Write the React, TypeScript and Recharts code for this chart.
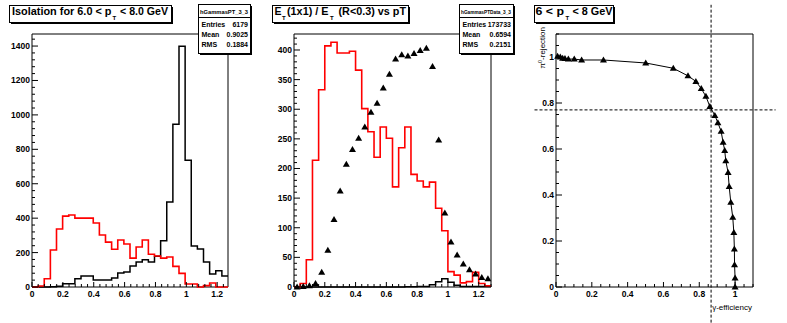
import React from "react";
import { ComposedChart, Line, XAxis, YAxis, ReferenceArea, ReferenceLine } from "recharts";

const FONT = "'Liberation Sans', Arial, Helvetica, sans-serif";
const NBINS = 32;

// panel 1: isolation, 6 < pT < 8 GeV
const ISO_XMAX = 1.27;
const ISO_YMAX = 1470;
const ISO_RED = [0, 6, 48, 215, 337, 412, 418, 400, 400, 400, 372, 302, 261, 219, 273, 250, 168, 232, 273, 190, 180, 168, 174, 120, 79, 17, 17, 0, 8, 23, 0, 0];
const ISO_BLACK = [0, 0, 0, 2, 4, 19, 19, 48, 64, 64, 41, 41, 41, 52, 81, 87, 122, 145, 159, 145, 178, 269, 494, 945, 1399, 736, 238, 221, 145, 75, 95, 64];

// panel 2: ET(1x1)/ET(R<0.3)
const ET_XMAX = 1.28;
const ET_YMAX = 427;
const ET_RED = [0, 6, 46, 214, 333, 407, 413, 395, 395, 398, 366, 301, 262, 219, 270, 251, 169, 235, 270, 190, 179, 169, 177, 133, 95, 26, 20, 7, 9, 25, 6, 2];
const ET_BLACK = [0, 0, 0, 0, 0, 0, 0, 0, 0, 0, 0, 0, 0, 0, 0, 0, 0, 0, 0.5, 0.5, 1, 1, 4, 9, 14, 8, 3, 1, 1, 1, 1, 1];
const ET_TRI = [0, 1, 2, 6, 25, 62, 114, 162, 207, 232, 251, 270, 295, 310, 336, 359, 385, 392, 390, 394, 399, 403, 372, 248, 125, 76, 54, 39, 29, 22, 16, 14];

// panel 3: rejection vs efficiency
const EFF = [0.009, 0.024, 0.037, 0.05, 0.069, 0.102, 0.143, 0.265, 0.501, 0.655, 0.737, 0.781, 0.811, 0.837, 0.859, 0.887, 0.904, 0.922, 0.933, 0.942, 0.948, 0.961, 0.967, 0.976, 0.987, 0.993, 0.996, 0.997, 1.0, 1.0];
const REJ = [1.003, 1.0, 0.995, 0.993, 0.991, 0.991, 0.987, 0.987, 0.974, 0.951, 0.918, 0.894, 0.863, 0.829, 0.785, 0.746, 0.714, 0.677, 0.629, 0.594, 0.549, 0.498, 0.437, 0.368, 0.303, 0.237, 0.165, 0.097, 0.039, 0.0];
const CUT_EFF = 0.866;
const CUT_REJ = 0.77;

const histRows = (vals: number[], xmax: number) => {
  const w = xmax / NBINS;
  const rows = vals.map((v, i) => ({ x: i * w, y: v }));
  rows.push({ x: xmax, y: vals[vals.length - 1] });
  return rows;
};
const centerRows = (vals: number[], xmax: number) => vals.map((v, i) => ({ x: (i + 0.5) * xmax / NBINS, y: v }));

const makeTicks = (max: number, step: number) => {
  const out: number[] = [];
  for (let i = 0; i * step <= max + 1e-9; i++) out.push(Math.round(i * step * 10000) / 10000);
  return out;
};
const isMajor = (v: number, step: number) => Math.abs(v / step - Math.round(v / step)) < 1e-6;
const fmt = (v: number) => String(Math.round(v * 100) / 100);

const makeYTick = (major: number) => (p: any) => {
  const v = p.payload.value;
  const big = isMajor(v, major);
  return (
    <g>
      <line x1={p.x} y1={p.y} x2={p.x + (big ? 6 : 3)} y2={p.y} stroke="#000" strokeWidth={1} />
      {big && (
        <text x={p.x - 2} y={p.y + 3} textAnchor="end" fontSize={8.5} fontWeight="bold" fontFamily={FONT} fill="#000">
          {fmt(v)}
        </text>
      )}
    </g>
  );
};
const makeXTick = (major: number) => (p: any) => {
  const v = p.payload.value;
  const big = isMajor(v, major);
  return (
    <g>
      <line x1={p.x} y1={p.y} x2={p.x} y2={p.y - (big ? 5 : 3)} stroke="#000" strokeWidth={1} />
      {big && (
        <text x={p.x} y={p.y + 10} textAnchor="middle" fontSize={8.5} fontWeight="bold" fontFamily={FONT} fill="#000">
          {fmt(v)}
        </text>
      )}
    </g>
  );
};

const Tri = (p: any) => {
  const { cx, cy } = p;
  if (cx == null || cy == null) return null;
  return <path d={`M${cx},${cy - 3.5}L${cx + 3.5},${cy + 2.5}L${cx - 3.5},${cy + 2.5}Z`} fill="#000" />;
};

const PaveBox = ({ x, y, w, h }: any) => (
  <g>
    <rect x={x + 2} y={y + 2} width={w} height={h} fill="#000" />
    <rect x={x + 0.5} y={y + 0.5} width={w} height={h} fill="#fff" stroke="#000" strokeWidth={1} />
  </g>
);

const T = (props: any) => (
  <text fontFamily={FONT} fontWeight="bold" fill="#000" lengthAdjust="spacingAndGlyphs" {...props} />
);

const StatsBox = ({ x, name, entries, mean, rms, w }: any) => (
  <g>
    <PaveBox x={x} y={4} w={w} h={49} />
    <T x={x + w / 2} y={13.5} fontSize={6} textAnchor="middle" textLength={w - 4}>{name}</T>
    <line x1={x} y1={17.5} x2={x + w} y2={17.5} stroke="#000" strokeWidth={1} />
    <T x={x + 3.5} y={27} fontSize={7}>Entries</T>
    <T x={x + w - 2} y={27} fontSize={7} textAnchor="end">{entries}</T>
    <T x={x + 3.5} y={37} fontSize={7}>Mean</T>
    <T x={x + w - 2} y={37} fontSize={7} textAnchor="end">{mean}</T>
    <T x={x + 3.5} y={46.5} fontSize={7}>RMS</T>
    <T x={x + w - 2} y={46.5} fontSize={7} textAnchor="end">{rms}</T>
  </g>
);

const overlay: React.CSSProperties = { position: "absolute", left: 0, top: 0, pointerEvents: "none" };

function IsoPanel() {
  return (
    <div style={{ position: "relative", width: 262, height: 323 }}>
      <ComposedChart width={262} height={323} margin={{ top: 34, right: 34, bottom: 0, left: 0 }}>
        <XAxis type="number" dataKey="x" domain={[0, ISO_XMAX]} ticks={makeTicks(ISO_XMAX, 0.04)} interval={0}
          tickSize={0} tickMargin={0} axisLine={false} tickLine={false} tick={makeXTick(0.2)} height={36} />
        <YAxis type="number" domain={[0, ISO_YMAX]} ticks={makeTicks(ISO_YMAX, 40)} interval={0}
          tickSize={0} tickMargin={0} axisLine={false} tickLine={false} tick={makeYTick(200)} width={32} />
        <ReferenceArea x1={0} x2={ISO_XMAX} y1={0} y2={ISO_YMAX} fill="none" fillOpacity={0} stroke="#000" strokeWidth={1} ifOverflow="visible" />
        <Line data={histRows(ISO_BLACK, ISO_XMAX)} dataKey="y" type="stepAfter" stroke="#000" strokeWidth={1.5} dot={false} activeDot={false} isAnimationActive={false} />
        <Line data={histRows(ISO_RED, ISO_XMAX)} dataKey="y" type="stepAfter" stroke="#ff0000" strokeWidth={1.6} dot={false} activeDot={false} isAnimationActive={false} />
      </ComposedChart>
      <svg width={262} height={323} style={overlay}>
        <PaveBox x={9} y={5} w={162} h={17} />
        <T x={12} y={14.5} fontSize={10.5} textLength={99.5}>Isolation for 6.0 &lt; p</T>
        <T x={112.5} y={19.5} fontSize={6}>T</T>
        <T x={120} y={14.5} fontSize={10.5} textLength={48}>&lt; 8.0 GeV</T>
        <StatsBox x={198} w={52} name="hGammasPT_3_3" entries="6179" mean="0.9025" rms="0.1884" />
      </svg>
    </div>
  );
}

function EtPanel() {
  return (
    <div style={{ position: "relative", width: 262, height: 323 }}>
      <ComposedChart width={262} height={323} margin={{ top: 34, right: 33, bottom: 0, left: 0 }}>
        <XAxis type="number" dataKey="x" domain={[0, ET_XMAX]} ticks={makeTicks(ET_XMAX, 0.04)} interval={0}
          tickSize={0} tickMargin={0} axisLine={false} tickLine={false} tick={makeXTick(0.2)} height={36} />
        <YAxis type="number" domain={[0, ET_YMAX]} ticks={makeTicks(ET_YMAX, 10)} interval={0}
          tickSize={0} tickMargin={0} axisLine={false} tickLine={false} tick={makeYTick(50)} width={32} />
        <ReferenceArea x1={0} x2={ET_XMAX} y1={0} y2={ET_YMAX} fill="none" fillOpacity={0} stroke="#000" strokeWidth={1} ifOverflow="visible" />
        <Line data={histRows(ET_BLACK, ET_XMAX)} dataKey="y" type="stepAfter" stroke="#000" strokeWidth={1.5} dot={false} activeDot={false} isAnimationActive={false} />
        <Line data={histRows(ET_RED, ET_XMAX)} dataKey="y" type="stepAfter" stroke="#ff0000" strokeWidth={1.6} dot={false} activeDot={false} isAnimationActive={false} />
        <Line data={centerRows(ET_TRI, ET_XMAX)} dataKey="y" stroke="none" dot={<Tri />} activeDot={false} isAnimationActive={false} />
      </ComposedChart>
      <svg width={262} height={323} style={overlay}>
        <PaveBox x={10} y={5} w={136} h={17} />
        <T x={12.5} y={14.5} fontSize={10.5} textLength={7}>E</T>
        <T x={20} y={19.5} fontSize={6}>T</T>
        <T x={25} y={14.5} fontSize={10.5} textLength={41.5}>(1x1) / E</T>
        <T x={68} y={19.5} fontSize={6}>T</T>
        <T x={76.5} y={14.5} fontSize={10.5} textLength={67.5}>(R&lt;0.3) vs pT</T>
        <StatsBox x={197} w={54} name="hGammasPTData_3_3" entries="173733" mean="0.6594" rms="0.2151" />
      </svg>
    </div>
  );
}

function EffPanel() {
  const pts = EFF.map((x, i) => ({ x, y: REJ[i] }));
  return (
    <div style={{ position: "relative", width: 263, height: 323 }}>
      <ComposedChart width={263} height={323} margin={{ top: 34, right: 34, bottom: 0, left: 0 }}>
        <XAxis type="number" dataKey="x" domain={[0, 1.1]} ticks={makeTicks(1.1, 0.05)} interval={0}
          tickSize={0} tickMargin={0} axisLine={false} tickLine={false} tick={makeXTick(0.2)} height={36} />
        <YAxis type="number" domain={[0, 1.1]} ticks={makeTicks(1.1, 0.05)} interval={0}
          tickSize={0} tickMargin={0} axisLine={false} tickLine={false} tick={makeYTick(0.2)} width={32} />
        <ReferenceArea x1={0} x2={1.1} y1={0} y2={1.1} fill="none" fillOpacity={0} stroke="#000" strokeWidth={1} ifOverflow="visible" />
        <Line data={pts} dataKey="y" type="linear" stroke="#000" strokeWidth={1} dot={<Tri />} activeDot={false} isAnimationActive={false} />
        <ReferenceLine segment={[{ x: CUT_EFF, y: -0.155 }, { x: CUT_EFF, y: 1.227 }]} stroke="#000" strokeWidth={1} strokeDasharray="3 2" ifOverflow="visible" />
        <ReferenceLine segment={[{ x: -0.12, y: CUT_REJ }, { x: 1.226, y: CUT_REJ }]} stroke="#000" strokeWidth={1} strokeDasharray="3 2" ifOverflow="visible" />
      </ComposedChart>
      <svg width={263} height={323} style={overlay}>
        <PaveBox x={10} y={5} w={79} h={17} />
        <T x={11.5} y={14.5} fontSize={10.5} textLength={28.5}>6 &lt; p</T>
        <T x={41.5} y={19.5} fontSize={6}>T</T>
        <T x={48.5} y={14.5} fontSize={10.5} textLength={40}>&lt; 8 GeV</T>
        <text x={21} y={27} transform="rotate(-90 21 27)" textAnchor="end" fontSize={8} fontFamily={FONT} fill="#000">
          π<tspan dy={-3} fontSize={5.5}>0</tspan><tspan dy={3}>-rejection</tspan>
        </text>
        <text x={228} y={309.5} textAnchor="end" fontSize={8} fontFamily={FONT} fill="#000">γ-efficiency</text>
      </svg>
    </div>
  );
}

export default function App() {
  return (
    <div style={{ position: "absolute", left: 0, top: 0, width: 787, height: 323, background: "#fff", display: "flex" }}>
      <IsoPanel />
      <EtPanel />
      <EffPanel />
    </div>
  );
}
